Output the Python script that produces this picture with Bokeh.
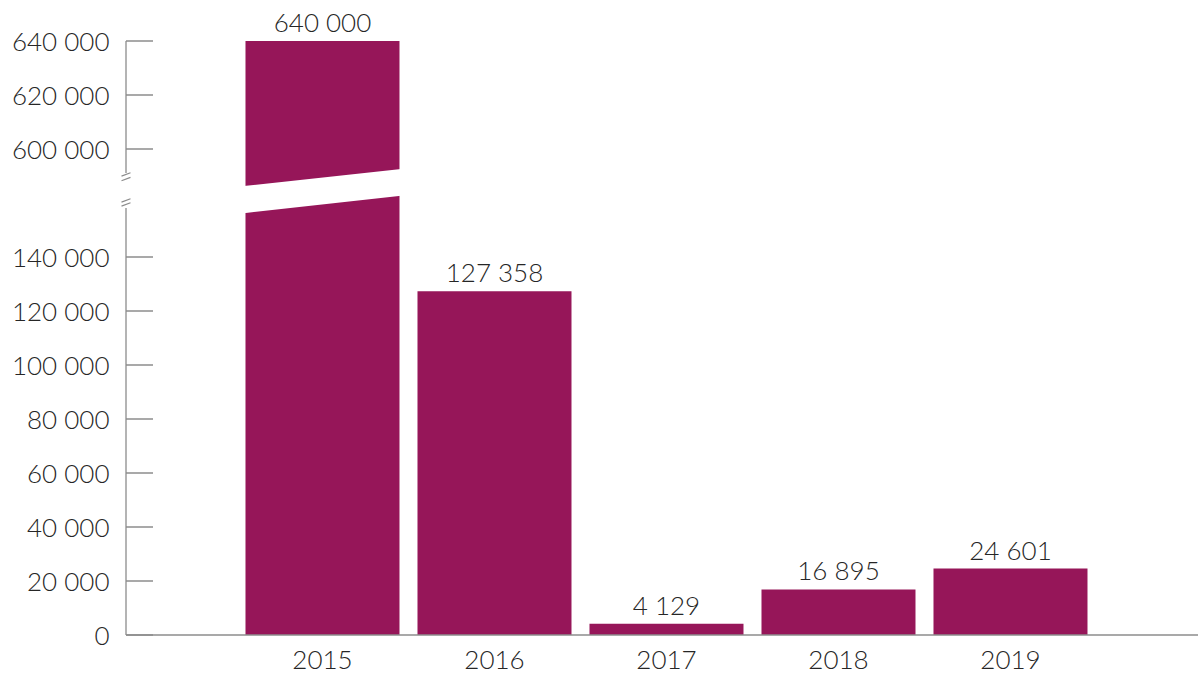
from bokeh.plotting import figure
from bokeh.models import ColumnDataSource, FixedTicker, Range1d
from bokeh.core.properties import value
from bokeh.embed import file_html
from bokeh.resources import INLINE

# ---- data ----
years = ["2015", "2016", "2017", "2018", "2019"]
counts = [640000, 127358, 4129, 16895, 24601]
value_labels = ["640 000", "127 358", "4 129", "16 895", "24 601"]
lower_ticks = [0, 20000, 40000, 60000, 80000, 100000, 120000, 140000]
upper_ticks = [600000, 620000, 640000]

# ---- broken-axis mapping ----
BREAK_ABOVE = 500000      # values above this are drawn in the upper segment
BREAK_SHIFT = 420000      # shift applied to upper-segment values


def disp(v):
    return v - BREAK_SHIFT if v > BREAK_ABOVE else v


def fmt(v):
    return f"{v:,}".replace(",", " ")


# ---- layout constants ----
PX_Y = 1000 / 2.7          # data units per pixel (y)
PX_X = 1 / 172.0           # data units per pixel (x)
W, H = 1198, 673
MB_LEFT, MB_TOP, MB_BOTTOM = 118, 0, 37
X0 = -1.186
X1 = X0 + (W - MB_LEFT) * PX_X
AX = X0 + 7.5 * PX_X       # axis line x
TICK_LEN = 27 * PX_X
BAR_W = 154 * PX_X

FONTNAME = "Lato Light"
FONT = value(FONTNAME)
FS = "26px"
TXT = "#262626"
AXC = "#8c8c8c"
BAR = "#961659"

frame_h = H - MB_TOP - MB_BOTTOM
Y0 = -1.5 * PX_Y
Y1 = Y0 + frame_h * PX_Y

p = figure(width=W, height=H, output_backend="svg", toolbar_location=None,
           x_range=Range1d(X0, X1), y_range=Range1d(Y0, Y1),
           min_border_left=MB_LEFT, min_border_right=0,
           min_border_top=MB_TOP, min_border_bottom=MB_BOTTOM)
p.outline_line_color = None
p.grid.visible = False
p.background_fill_color = "white"
p.border_fill_color = "white"

xs = list(range(len(years)))
tops = [disp(v) for v in counts]
src = ColumnDataSource(dict(x=xs, top=tops, lab=value_labels))

p.vbar(x="x", top="top", width=BAR_W, source=src, fill_color=BAR, line_color=None)

# slanted break band across bars that exceed the break
BAND_LOW = 156300
BAND_GAP = 10000
BAND_SLANT = 6300
bxs, bys = [], []
for x, v in zip(xs, counts):
    if v > BREAK_ABOVE:
        l, r = x - BAR_W / 2 - 0.01, x + BAR_W / 2 + 0.01
        bxs.append([l, r, r, l])
        bys.append([BAND_LOW - 60, BAND_LOW + BAND_SLANT + 60,
                    BAND_LOW + BAND_SLANT + BAND_GAP, BAND_LOW + BAND_GAP])
p.patches(xs=bxs, ys=bys, fill_color="white", line_color=None)

p.text(x="x", y="top", text="lab", source=src, text_align="center",
       text_baseline="bottom", y_offset=-3, text_font=FONT,
       text_font_size=FS, text_color=TXT)

# ---- y axis (broken) ----
all_ticks = lower_ticks + upper_ticks
tick_pos = [disp(t) for t in all_ticks]
p.yaxis.ticker = FixedTicker(ticks=tick_pos)
p.yaxis.major_label_overrides = {tp: fmt(t) for tp, t in zip(tick_pos, all_ticks)}
p.yaxis.axis_line_color = None
p.yaxis.major_tick_line_color = None
p.yaxis.minor_tick_line_color = None
p.yaxis.major_label_standoff = 3
p.yaxis.major_label_text_font = FONTNAME
p.yaxis.major_label_text_font_size = FS
p.yaxis.major_label_text_color = TXT

# drawn axis line pieces and ticks
UP_END = 171100
LO_END = 158150
p.segment(x0=[AX, AX], y0=[0, UP_END], x1=[AX, AX], y1=[LO_END, disp(max(upper_ticks))],
          line_color=AXC, line_width=1.3)
p.segment(x0=[AX] * len(tick_pos), y0=tick_pos, x1=[AX + TICK_LEN] * len(tick_pos),
          y1=tick_pos, line_color=AXC, line_width=1.3)
# break marks (double slash)
mark_c = [UP_END - 1.4 * PX_Y, UP_END - 6.0 * PX_Y, LO_END + 7.6 * PX_Y, LO_END + 3.6 * PX_Y]
mx0 = [AX - 4.5 * PX_X] * 4
mx1 = [AX + 4.5 * PX_X] * 4
my0 = [c - 1.7 * PX_Y for c in mark_c]
my1 = [c + 1.7 * PX_Y for c in mark_c]
p.segment(x0=mx0, y0=my0, x1=mx1, y1=my1, line_color=AXC, line_width=1.2)

# ---- x axis ----
p.segment(x0=[AX], y0=[0], x1=[X1], y1=[0], line_color=AXC, line_width=1.3)
p.xaxis.ticker = FixedTicker(ticks=xs)
p.xaxis.major_label_overrides = {i: y for i, y in zip(xs, years)}
p.xaxis.axis_line_color = None
p.xaxis.major_tick_line_color = None
p.xaxis.minor_tick_line_color = None
p.xaxis.major_label_standoff = 8
p.xaxis.major_label_text_font = FONTNAME
p.xaxis.major_label_text_font_size = FS
p.xaxis.major_label_text_color = TXT

open("out.html", "w").write(file_html(p, INLINE))
